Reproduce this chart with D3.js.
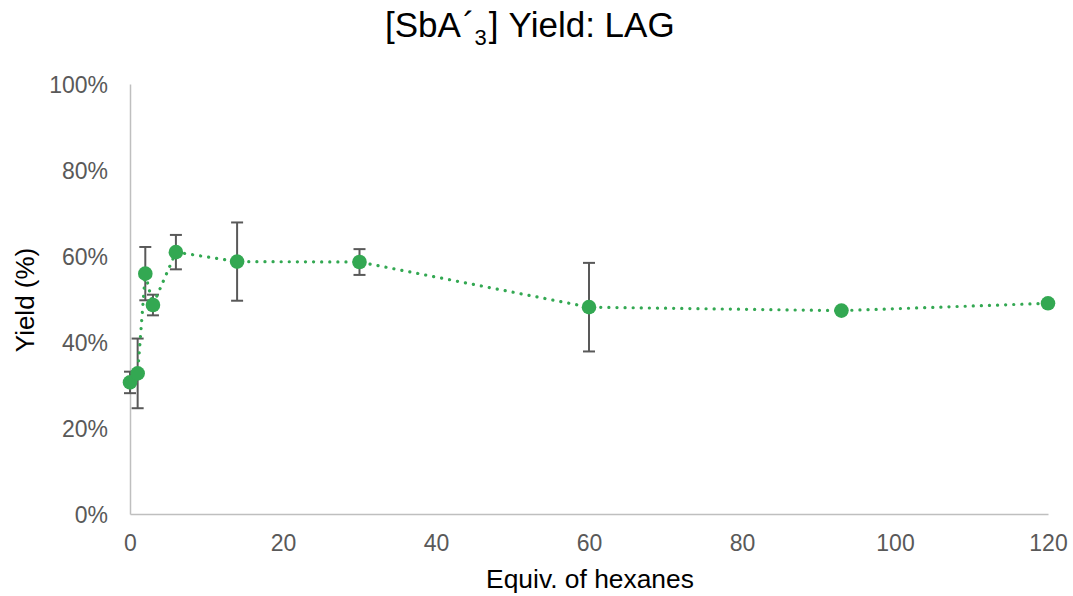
<!DOCTYPE html>
<html>
<head>
<meta charset="utf-8">
<script src="https://cdn.jsdelivr.net/npm/d3@7"></script>
<style>
  html, body { margin: 0; padding: 0; background: #fff; }
  svg { display: block; font-family: "Liberation Sans", Arial, sans-serif; }
</style>
</head>
<body>
<svg id="chart" width="1073" height="596"></svg>
<script>
// Equivalents of hexanes added and measured yield (%) with error (±%)
const equiv   = [0, 1, 2, 3, 6, 14, 30, 60, 93, 120];
const yieldPc = [30.6, 32.7, 55.9, 48.6, 60.9, 58.7, 58.6, 48.1, 47.3, 49.0];
const errPc   = [2.5, 8.1, 6.2, 2.4, 4.0, 9.1, 3.0, 10.3, 0, 0];
const xTicks  = [0, 20, 40, 60, 80, 100, 120];
const yTicks  = [0, 20, 40, 60, 80, 100];

const svg = d3.select("#chart");
const W = 1073, H = 596;
const margin = { left: 130, right: W - 1048, top: 84, bottom: H - 514 };

const x = d3.scaleLinear().domain([0, 120]).range([margin.left, W - margin.right]);
const y = d3.scaleLinear().domain([0, 100]).range([H - margin.bottom, margin.top]);

const green = "#33a852";
const gray = "#595959";

// Axes
const xAxis = svg.append("g")
  .attr("transform", `translate(0,${y(0)})`)
  .call(d3.axisBottom(x).tickValues(xTicks).tickSize(0).tickPadding(0));
const yAxis = svg.append("g")
  .attr("transform", `translate(${x(0)},0)`)
  .call(d3.axisLeft(y).tickValues(yTicks).tickSize(0).tickPadding(22).tickFormat(d => d + "%"));

[xAxis, yAxis].forEach(g => {
  g.select(".domain").attr("stroke", "#bfbfbf").attr("stroke-width", 1.5);
  g.selectAll("text")
    .attr("fill", gray)
    .attr("font-size", 23)
    .attr("font-family", "Liberation Sans, Arial, sans-serif");
});
xAxis.selectAll("text").attr("y", 37).attr("dy", 0);
yAxis.selectAll("text").attr("dy", "0.35em");

const pts = equiv.map((e, i) => ({ e, v: yieldPc[i], err: errPc[i] }));

// Error bars
const eb = svg.append("g").attr("stroke", gray).attr("stroke-width", 2);
pts.filter(d => d.err > 0).forEach(d => {
  const cx = x(d.e);
  eb.append("line").attr("x1", cx).attr("x2", cx)
    .attr("y1", y(d.v + d.err)).attr("y2", y(d.v - d.err));
  [d.v + d.err, d.v - d.err].forEach(t => {
    eb.append("line").attr("x1", cx - 6).attr("x2", cx + 6)
      .attr("y1", y(t)).attr("y2", y(t));
  });
});

// Dotted connecting line
const line = d3.line().x(d => x(d.e)).y(d => y(d.v));
svg.append("path")
  .datum(pts)
  .attr("d", line)
  .attr("fill", "none")
  .attr("stroke", green)
  .attr("stroke-width", 3.2)
  .attr("stroke-linecap", "round")
  .attr("stroke-dasharray", "0.1 8");

// Markers
svg.append("g").selectAll("circle")
  .data(pts)
  .join("circle")
  .attr("cx", d => x(d.e))
  .attr("cy", d => y(d.v))
  .attr("r", 7.3)
  .attr("fill", green);

// Title
const title = svg.append("text")
  .attr("x", 385)
  .attr("y", 37)
  .attr("font-size", 35)
  .attr("fill", "#000");
title.append("tspan").text("[SbA");
title.append("tspan").attr("dx", 2).text("´");
title.append("tspan").attr("font-size", 22).attr("dx", 0).attr("dy", 8).text("3");
title.append("tspan").attr("dx", 2).attr("dy", -8).text("]");
title.append("tspan").attr("dx", 1).text(" Yield: LAG");

// Axis titles
svg.append("text")
  .attr("x", 590)
  .attr("y", 588)
  .attr("text-anchor", "middle")
  .attr("font-size", 26.4)
  .attr("fill", "#000")
  .text("Equiv. of hexanes");

svg.append("text")
  .attr("transform", `translate(34,300) rotate(-90)`)
  .attr("text-anchor", "middle")
  .attr("font-size", 26)
  .attr("fill", "#000")
  .text("Yield (%)");
</script>
</body>
</html>
